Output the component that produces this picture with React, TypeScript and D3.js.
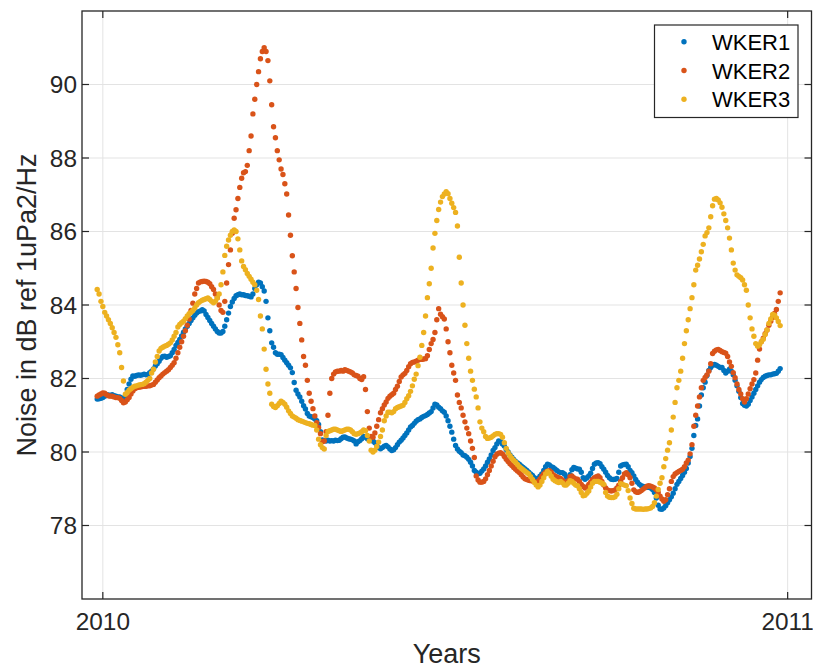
import React from 'react';
import * as d3 from 'd3';

// Daily values starting 2009-12-29
const START_DATE = Date.UTC(2009, 11, 29);
const DAY_MS = 86400000;

const seriesNames = ['WKER1', 'WKER2', 'WKER3'];
const seriesColors = ['#0072BD', '#D95319', '#EDB120'];
const yTickValues = [78, 80, 82, 84, 86, 88, 90];
const xTickYears = [2010, 2011];

const wker1 = [
  81.44, 81.45, 81.46, 81.48, 81.52, 81.55, 81.55, 81.54, 81.56, 81.53,
  81.52, 81.5, 81.5, 81.47, 81.45, 81.5, 81.7, 81.85, 81.98, 82.07,
  82.06, 82.08, 82.1, 82.09, 82.1, 82.12, 82.1, 82.11, 82.16, 82.2,
  82.26, 82.34, 82.4, 82.47, 82.55, 82.6, 82.61, 82.58, 82.6, 82.62,
  82.7, 82.79, 82.9, 82.98, 83.06, 83.16, 83.26, 83.35, 83.42, 83.5,
  83.58, 83.65, 83.72, 83.78, 83.82, 83.84, 83.87, 83.84, 83.74, 83.66,
  83.58, 83.5, 83.42, 83.35, 83.28, 83.24, 83.24, 83.28, 83.42, 83.6,
  83.78, 83.96, 84.08, 84.18, 84.25, 84.28, 84.3, 84.28, 84.28, 84.26,
  84.25, 84.24, 84.22, 84.3, 84.45, 84.55, 84.62, 84.6, 84.5, 84.38,
  84.1, 83.65, 83.3, 82.97, 82.85, 82.7, 82.66, 82.66, 82.65, 82.57,
  82.5, 82.43, 82.36, 82.29, 82.16, 81.89, 81.68, 81.58, 81.5, 81.38,
  81.26, 81.17, 81.05, 80.98, 80.96, 80.94, 80.9, 80.85, 80.75, 80.55,
  80.33, 80.31, 80.3, 80.32, 80.3, 80.31, 80.3, 80.32, 80.31, 80.32,
  80.36, 80.4, 80.41, 80.38, 80.36, 80.35, 80.33, 80.3, 80.22, 80.28,
  80.31, 80.36, 80.42, 80.4, 80.36, 80.33, 80.31, 80.3, 80.25, 80.18,
  80.12, 80.09, 80.12, 80.16, 80.18, 80.14, 80.08, 80.04, 80.06, 80.12,
  80.2, 80.27, 80.32, 80.38, 80.45, 80.52, 80.6, 80.68, 80.72, 80.78,
  80.84, 80.88, 80.9, 80.94, 80.97, 80.99, 81.02, 81.06, 81.1, 81.2,
  81.3, 81.28, 81.22, 81.18, 81.12, 81.08, 80.98, 80.85, 80.7, 80.54,
  80.35, 80.18, 80.08, 80.02, 79.98, 79.92, 79.9, 79.86, 79.8, 79.72,
  79.62, 79.5, 79.45, 79.41, 79.42, 79.48, 79.54, 79.62, 79.72, 79.81,
  79.92, 80.04, 80.12, 80.22, 80.3, 80.28, 80.22, 80.16, 80.07, 80.0,
  79.92, 79.86, 79.8, 79.74, 79.7, 79.67, 79.62, 79.58, 79.54, 79.5,
  79.45, 79.4, 79.36, 79.3, 79.25, 79.28, 79.34, 79.4, 79.5, 79.6,
  79.67, 79.65, 79.6, 79.58, 79.54, 79.5, 79.46, 79.44, 79.44, 79.4,
  79.32, 79.26, 79.38, 79.52, 79.58, 79.56, 79.54, 79.53, 79.45, 79.3,
  79.26, 79.3, 79.35, 79.42, 79.55, 79.67, 79.7, 79.71, 79.68, 79.6,
  79.53, 79.45, 79.36, 79.3, 79.26, 79.25, 79.26, 79.28, 79.45, 79.62,
  79.65, 79.66, 79.67, 79.6, 79.5, 79.44, 79.35, 79.25, 79.18, 79.12,
  79.08, 79.06, 79.05, 79.04, 79.04, 79.02, 78.98, 78.9, 78.75, 78.55,
  78.45, 78.44, 78.48, 78.54, 78.62, 78.7, 78.78, 78.88, 79.0, 79.12,
  79.2, 79.28, 79.36, 79.45, 79.55, 79.7, 79.88, 80.1, 80.45, 80.72,
  80.9, 81.25, 81.55, 81.75, 81.9, 82.08, 82.22, 82.3, 82.36, 82.38,
  82.36, 82.33, 82.3, 82.3, 82.22, 82.15, 82.2, 82.25, 82.2, 82.1,
  81.95, 81.8, 81.65, 81.48, 81.32, 81.27, 81.25, 81.3, 81.4, 81.5,
  81.6, 81.7, 81.8, 81.9, 81.97, 82.03, 82.06, 82.08, 82.1, 82.1,
  82.12, 82.13, 82.14, 82.2, 82.27,
];

const wker2 = [
  81.52, 81.55, 81.58, 81.61, 81.6, 81.56, 81.53, 81.52, 81.52, 81.5,
  81.48, 81.48, 81.46, 81.4, 81.34, 81.36, 81.42, 81.48, 81.58, 81.66,
  81.72, 81.75, 81.76, 81.77, 81.78, 81.79, 81.79, 81.8, 81.8, 81.82,
  81.84, 81.9, 81.96, 82.02, 82.07, 82.12, 82.16, 82.2, 82.24, 82.3,
  82.36, 82.43, 82.55, 82.7, 82.85, 83.0, 83.15, 83.3, 83.45, 83.62,
  83.85, 84.05, 84.3, 84.45, 84.6, 84.63, 84.64, 84.65, 84.64, 84.62,
  84.58, 84.5, 84.42, 84.3, 84.2, 84.0, 83.85, 83.8, 84.1, 84.6,
  85.1, 85.5, 85.95, 86.36, 86.59, 86.9, 87.2, 87.45, 87.6, 87.63,
  87.8, 88.2, 88.6, 89.2, 89.6, 90.0, 90.35, 90.7, 90.9, 91.0,
  90.9, 90.65, 90.1, 89.45, 88.85, 88.55, 88.2, 87.95, 87.7, 87.55,
  87.3, 87.02, 86.45, 85.9, 85.34, 84.9, 84.45, 83.93, 83.5, 83.05,
  82.6, 82.36, 81.95, 81.6, 81.38, 81.18, 80.98, 80.8, 80.67, 80.5,
  80.28, 80.3, 80.55, 81.0, 81.6, 82.0, 82.12, 82.18, 82.2, 82.2,
  82.22, 82.2, 82.24, 82.22, 82.2, 82.18, 82.15, 82.1, 82.08, 82.06,
  82.0, 81.97, 82.05, 81.7, 81.1, 80.65, 80.42, 80.4, 80.52, 80.7,
  80.88, 81.07, 81.18, 81.28, 81.36, 81.46, 81.52, 81.56, 81.6, 81.7,
  81.79, 81.92, 82.04, 82.1, 82.14, 82.22, 82.32, 82.4, 82.44, 82.45,
  82.47, 82.5, 82.52, 82.52, 82.53, 82.54, 82.62, 82.79, 82.95, 83.06,
  83.25, 83.6, 83.9, 83.75, 83.68, 83.62, 83.35, 83.0, 82.7, 82.36,
  82.15, 81.95, 81.55, 81.35, 81.2, 81.0, 80.82, 80.65, 80.5, 80.3,
  80.1, 79.85, 79.35, 79.24, 79.18, 79.18, 79.2, 79.27, 79.38, 79.5,
  79.62, 79.75, 79.87, 79.94, 79.97, 79.98, 79.95, 79.88, 79.8, 79.74,
  79.68, 79.63, 79.58, 79.53, 79.48, 79.44, 79.38, 79.32, 79.27, 79.25,
  79.23, 79.22, 79.21, 79.19, 79.17, 79.2, 79.27, 79.34, 79.4, 79.45,
  79.48, 79.49, 79.45, 79.38, 79.35, 79.32, 79.3, 79.28, 79.23, 79.17,
  79.14, 79.22, 79.33, 79.35, 79.3, 79.27, 79.26, 79.2, 79.12, 79.06,
  79.02, 79.05, 79.12, 79.18, 79.25, 79.3, 79.33, 79.35, 79.3, 79.2,
  79.1, 79.02, 78.97, 78.95, 78.94, 78.95, 78.97, 79.02, 79.1, 79.2,
  79.3, 79.4, 79.44, 79.38, 79.3, 79.15, 78.97, 78.92, 78.9, 78.92,
  78.95, 78.99, 79.03, 79.07, 79.08, 79.07, 79.05, 79.02, 78.97, 78.9,
  78.8, 78.72, 78.66, 78.7, 78.84, 79.0, 79.2, 79.33, 79.4, 79.44,
  79.47, 79.5, 79.53, 79.6, 79.7, 79.78, 79.95, 80.2, 80.7, 81.0,
  81.25, 81.5, 81.75, 81.95, 82.03, 82.1, 82.2, 82.4, 82.68, 82.74,
  82.78, 82.79, 82.76, 82.73, 82.71, 82.69, 82.6, 82.45, 82.33, 82.16,
  82.02, 81.85, 81.7, 81.58, 81.45, 81.36, 81.45, 81.58, 81.72, 81.85,
  81.97, 82.15, 82.5, 82.8, 83.0, 83.1, 83.22, 83.32, 83.45, 83.56,
  83.66, 83.77, 83.88, 84.1, 84.33,
];

const wker3 = [
  84.42, 84.3, 84.1, 83.96, 83.8, 83.7, 83.6, 83.5, 83.38, 83.25,
  83.12, 82.92, 82.7, 82.3, 81.93, 81.57, 81.62, 81.68, 81.72, 81.76,
  81.79, 81.8, 81.82, 81.83, 81.84, 81.86, 81.9, 81.95, 82.0, 82.15,
  82.25, 82.45, 82.6, 82.75, 82.82, 82.85, 82.88, 82.9, 82.93, 82.97,
  83.05, 83.15, 83.25, 83.4, 83.47, 83.52, 83.56, 83.63, 83.7, 83.76,
  83.8, 83.85, 83.92, 84.0, 84.06, 84.1, 84.13, 84.15, 84.17, 84.19,
  84.15, 84.1, 84.06, 84.1, 84.19, 84.3, 84.55, 84.9, 85.35, 85.6,
  85.77, 85.9, 86.0, 86.04, 86.0, 85.8, 85.5, 85.2, 85.05, 84.96,
  84.86, 84.78, 84.7, 84.62, 84.55, 84.4, 84.15, 83.7, 83.35, 82.8,
  82.25, 81.85, 81.6, 81.3, 81.24, 81.21, 81.26, 81.32, 81.38, 81.35,
  81.3, 81.22, 81.12, 81.05, 80.98, 80.95, 80.92, 80.88, 80.86, 80.84,
  80.82, 80.8, 80.78, 80.77, 80.75, 80.73, 80.72, 80.6, 80.35, 80.2,
  80.12, 80.08, 80.45, 80.56, 80.58, 80.6, 80.62, 80.62, 80.6, 80.58,
  80.56, 80.58, 80.6, 80.62, 80.62, 80.6, 80.55, 80.5, 80.48, 80.5,
  80.52, 80.55, 80.6, 80.58, 80.45, 80.3, 80.05, 80.0, 80.05, 80.15,
  80.27, 80.42, 80.6, 80.85, 80.98, 81.08, 81.08, 81.07, 81.1, 81.18,
  81.21, 81.23, 81.25, 81.27, 81.35, 81.45, 81.53, 81.65, 81.8, 81.98,
  82.12, 82.35, 82.58, 82.9, 83.25, 83.7, 84.2, 84.58, 85.0, 85.55,
  85.95, 86.3, 86.6, 86.8, 86.95, 87.02, 87.08, 87.03, 86.9, 86.77,
  86.65, 86.52, 86.15, 85.3, 84.6, 84.0, 83.45, 82.95, 82.55, 82.2,
  81.95, 81.71, 81.5, 81.2, 80.82, 80.65, 80.55, 80.42, 80.37, 80.38,
  80.4, 80.44, 80.48, 80.5, 80.5, 80.48, 80.4, 80.25, 80.1, 79.98,
  79.9, 79.83, 79.77, 79.72, 79.66, 79.6, 79.56, 79.52, 79.48, 79.44,
  79.4, 79.33, 79.25, 79.17, 79.1, 79.05, 79.1, 79.2, 79.3, 79.4,
  79.47, 79.42, 79.34, 79.26, 79.22, 79.19, 79.17, 79.2, 79.16, 79.1,
  79.1, 79.15, 79.22, 79.2, 79.15, 79.1, 79.08, 79.0, 78.9, 78.81,
  78.82, 78.88, 78.94, 79.05, 79.15, 79.2, 79.2, 79.2, 79.18, 79.15,
  79.12, 78.9, 78.8, 78.77, 78.76, 78.76, 78.78, 78.85, 79.0, 79.14,
  79.12, 79.1, 79.08, 78.95, 78.75, 78.6, 78.47, 78.45, 78.45, 78.45,
  78.45, 78.44, 78.45, 78.45, 78.46, 78.48, 78.52, 78.62, 78.8, 78.98,
  79.15, 79.3, 79.6, 79.82, 80.05, 80.25, 80.6, 80.95, 81.35, 81.75,
  81.95, 82.2, 82.55, 82.95, 83.3, 83.6, 83.9, 84.2, 84.55, 84.95,
  85.08, 85.25, 85.45, 85.65, 85.88, 85.97, 86.1, 86.4, 86.7, 86.88,
  86.9, 86.86, 86.78, 86.66, 86.48, 86.3, 86.1, 85.82, 85.5, 85.14,
  84.95, 84.82, 84.78, 84.74, 84.68, 84.55, 84.4, 84.0, 83.65, 83.35,
  83.15, 82.95, 82.88, 82.92, 83.0, 83.07, 83.2, 83.32, 83.5, 83.62,
  83.74, 83.72, 83.65, 83.55, 83.44,
];

const seriesValues = [wker1, wker2, wker3];

const W = 813;
const H = 668;
const LEFT = 82;
const RIGHT = 811.5;
const TOP = 11;
const BOTTOM = 599;
const AXIS_COLOR = '#262626';
const GRID_COLOR = '#e3e3e3';
const FONT = "'Liberation Sans', Arial, Helvetica, sans-serif";
const TICK_FONT = 24.4;
const LABEL_FONT = 27;
const LEGEND_FONT = 22;

export default function App() {
  const x = d3
    .scaleUtc()
    .domain([new Date(Date.UTC(2009, 11, 20, 21, 36)), new Date(Date.UTC(2011, 0, 13, 17, 0))])
    .range([LEFT, RIGHT]);
  const y = d3.scaleLinear().domain([76, 92]).range([BOTTOM, TOP]);

  const xTicks = xTickYears.map((yr) => new Date(Date.UTC(yr, 0, 1)));
  const tickLen = 7;

  return (
    <svg
      width={W}
      height={H}
      style={{ position: 'absolute', left: 0, top: 0, background: '#fff' }}
      fontFamily={FONT}
    >
      <rect x={0} y={0} width={W} height={H} fill="#fff" />
      {/* grid */}
      <g stroke={GRID_COLOR} strokeWidth={1}>
        {yTickValues.map((v) => (
          <line key={'gy' + v} x1={LEFT} x2={RIGHT} y1={y(v)} y2={y(v)} />
        ))}
        {xTicks.map((d, i) => (
          <line key={'gx' + i} x1={x(d)} x2={x(d)} y1={TOP} y2={BOTTOM} />
        ))}
      </g>
      {/* data */}
      {seriesValues.map((vals, si) => (
        <g key={seriesNames[si]} fill={seriesColors[si]}>
          {vals.map((v, i) => (
            <circle
              key={i}
              cx={x(new Date(START_DATE + i * DAY_MS))}
              cy={y(v)}
              r={2.7}
            />
          ))}
        </g>
      ))}
      {/* axes box */}
      <rect
        x={LEFT}
        y={TOP}
        width={RIGHT - LEFT}
        height={BOTTOM - TOP}
        fill="none"
        stroke={AXIS_COLOR}
        strokeWidth={1.3}
      />
      {/* ticks */}
      <g stroke={AXIS_COLOR} strokeWidth={1.2}>
        {yTickValues.map((v) => (
          <g key={'ty' + v}>
            <line x1={LEFT} x2={LEFT + tickLen} y1={y(v)} y2={y(v)} />
            <line x1={RIGHT} x2={RIGHT - tickLen} y1={y(v)} y2={y(v)} />
          </g>
        ))}
        {xTicks.map((d, i) => (
          <g key={'tx' + i}>
            <line x1={x(d)} x2={x(d)} y1={BOTTOM} y2={BOTTOM - tickLen} />
            <line x1={x(d)} x2={x(d)} y1={TOP} y2={TOP + tickLen} />
          </g>
        ))}
      </g>
      {/* tick labels */}
      <g fill={AXIS_COLOR} fontSize={TICK_FONT}>
        {yTickValues.map((v) => (
          <text key={'ly' + v} x={LEFT - 5} y={y(v)} dy="0.35em" textAnchor="end">
            {v}
          </text>
        ))}
        {xTicks.map((d, i) => (
          <text key={'lx' + i} x={x(d)} y={BOTTOM + 31} textAnchor="middle">
            {d3.utcFormat('%Y')(d)}
          </text>
        ))}
      </g>
      {/* axis labels */}
      <text
        x={(LEFT + RIGHT) / 2}
        y={663}
        textAnchor="middle"
        fontSize={LABEL_FONT}
        fill={AXIS_COLOR}
      >
        Years
      </text>
      <text
        transform={`translate(36, ${(TOP + BOTTOM) / 2}) rotate(-90)`}
        textAnchor="middle"
        fontSize={LABEL_FONT}
        fill={AXIS_COLOR}
      >
        Noise in dB ref 1uPa2/Hz
      </text>
      {/* legend */}
      <g>
        <rect x={654.5} y={25} width={143.5} height={92.5} fill="#fff" stroke={AXIS_COLOR} strokeWidth={1.2} />
        {seriesNames.map((name, i) => (
          <g key={name}>
            <circle cx={684} cy={41.7 + i * 28.8} r={2.7} fill={seriesColors[i]} />
            <text x={712} y={41.7 + i * 28.8 + 8} fontSize={LEGEND_FONT} fill="#000">
              {name}
            </text>
          </g>
        ))}
      </g>
    </svg>
  );
}
